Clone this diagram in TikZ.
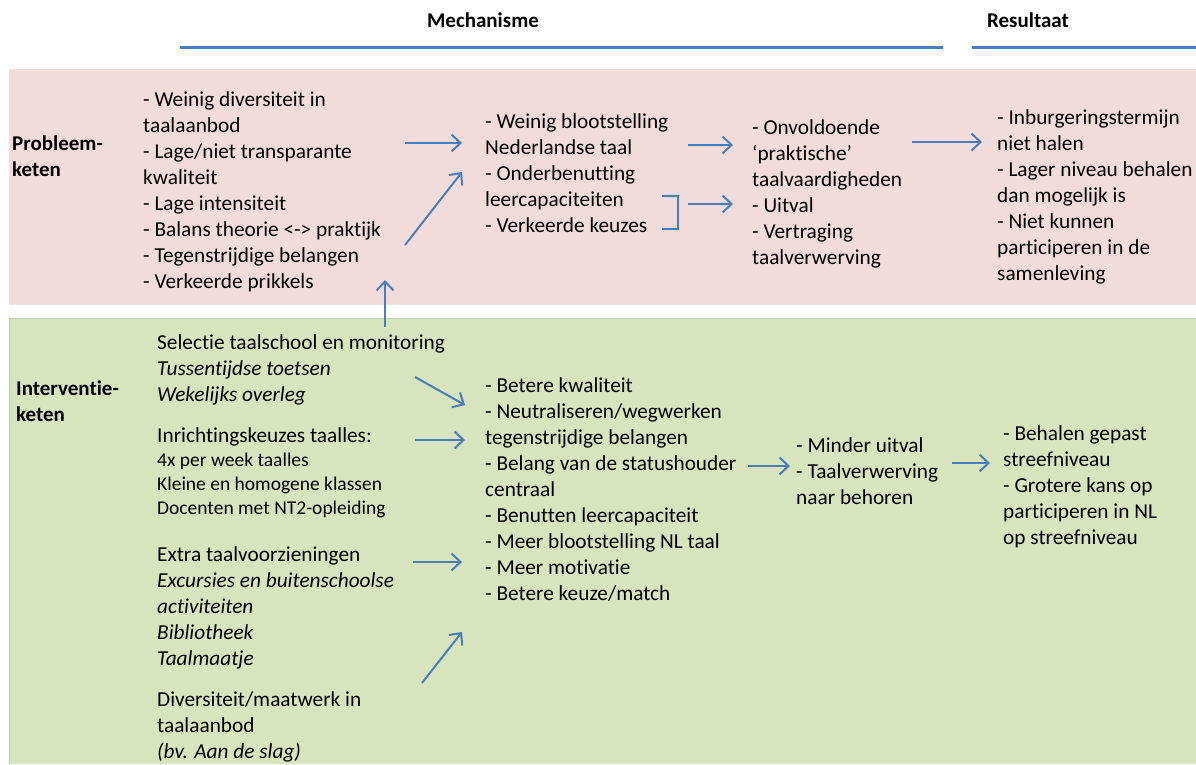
\documentclass[tikz,border=0pt]{standalone}
\usepackage{fontspec}
\setmainfont{Carlito}[Ligatures={NoCommon}]
\usepackage{tikz}
\usetikzlibrary{calc,positioning,arrows.meta}
\definecolor{blauw}{RGB}{74,126,187}
\definecolor{roze}{RGB}{242,220,219}
\definecolor{rozerand}{RGB}{236,228,228}
\definecolor{groen}{RGB}{215,228,189}
\definecolor{groenrand}{RGB}{196,206,182}
\tikzset{
  kopje/.style={font=\fontsize{21}{26}\selectfont\bfseries, inner sep=0pt},
  kopjelijn/.style={draw=blauw, line width=3pt},
  keten/.style={anchor=north west, align=left, inner sep=0pt,
    font=\fontsize{21}{26}\selectfont\bfseries,
    execute at begin node=\strut},
  lijst/.style={anchor=north west, align=left, inner sep=0pt,
    font=\fontsize{21.3}{26}\selectfont,
    execute at begin node=\strut},
  klein/.style={lijst, font=\fontsize{19.5}{24}\selectfont},
  pijl/.style={draw=blauw, line width=2pt,
    -{Straight Barb[length=9pt,width=17pt,line width=2pt]}},
  haak/.style={draw=blauw, line width=2pt},
}
\begin{document}
\begin{tikzpicture}[x=1pt,y=-1pt]
      \useasboundingbox (0,0) rectangle (1196,764);

      \fill[roze] (9,69) rectangle (1196,304);
      \draw[rozerand, line width=1pt] (9,69) rectangle (1196,304);
      \fill[groen] (9,318) rectangle (1196,764);
      \draw[groenrand, line width=1pt] (9,764) -- (9,318) -- (1196,318);

      \node[kopje] (mech) at (483,20) {Mechanisme};
      \node[kopje] (res) at (1028,20) {Resultaat};
      \coordinate (mechL) at (180,47); \coordinate (mechR) at (943,47);
      \coordinate (resL) at (972,47); \coordinate (resR) at (1196,47);
      \draw[kopjelijn] (mechL) -- (mechR);
      \draw[kopjelijn] (resL) -- (resR);

      \node[keten] (probl) at (12,136) {Probleem-\\keten};
      \node[lijst] (oorzaak) at (143,92) {- Weinig diversiteit in\\taalaanbod\\- Lage/niet transparante\\kwaliteit\\- Lage intensiteit\\- Balans theorie <-> praktijk\\- Tegenstrijdige belangen\\- Verkeerde prikkels};
      \node[lijst] (mechp) at (485,114) {- Weinig blootstelling\\Nederlandse taal\\- Onderbenutting\\leercapaciteiten\\- Verkeerde keuzes};
      \node[lijst] (gevolg) at (752,120) {- Onvoldoende\\‘praktische’\\taalvaardigheden\\- Uitval\\- Vertraging\\taalverwerving};
      \node[lijst] (resp) at (997,110) {- Inburgeringstermijn\\niet halen\\- Lager niveau behalen\\dan mogelijk is\\- Niet kunnen\\participeren in de\\samenleving};

      \draw[haak] (662,196) -- (678,196) -- (678,229) -- (662,229);

      \node[keten] (interv) at (16,381) {Interventie-\\keten};
      \node[lijst] (selectie) at (157,335) {Selectie taalschool en monitoring\\\textit{Tussentijdse toetsen}\\\textit{Wekelijks overleg}};
      \node[lijst] (inricht) at (157,424) {Inrichtingskeuzes taalles:};
      \node[klein] (inrichtsub) at (157,453) {4x per week taalles\\Kleine en homogene klassen\\Docenten met NT2-opleiding};
      \node[lijst] (extra) at (157,546) {Extra taalvoorzieningen\\\textit{Excursies en buitenschoolse}\\\textit{activiteiten}\\\textit{Bibliotheek}\\\textit{Taalmaatje}};
      \node[lijst] (divers) at (157,691) {Diversiteit/maatwerk in\\taalaanbod\\\textit{(bv. Aan de slag)}};
      \node[lijst] (mechi) at (485,377) {- Betere kwaliteit\\- Neutraliseren/wegwerken\\tegenstrijdige belangen\\- Belang van de statushouder\\centraal\\- Benutten leercapaciteit\\- Meer blootstelling NL taal\\- Meer motivatie\\- Betere keuze/match};
      \node[lijst] (uitkomst) at (796,437) {- Minder uitval\\- Taalverwerving\\naar behoren};
      \node[lijst] (resi) at (1003,425) {- Behalen gepast\\streefniveau\\- Grotere kans op\\participeren in NL\\op streefniveau};

      \coordinate (p1a) at (405,143); \coordinate (p1b) at (462,143);
      \coordinate (p2a) at (405,245); \coordinate (p2b) at (462,172);
      \coordinate (p3a) at (385,327); \coordinate (p3b) at (385,280);
      \coordinate (p4a) at (688,145); \coordinate (p4b) at (733,145);
      \coordinate (p5a) at (688,204); \coordinate (p5b) at (733,204);
      \coordinate (p6a) at (912,142); \coordinate (p6b) at (982,142);
      \coordinate (i1a) at (415,377); \coordinate (i1b) at (465,405);
      \coordinate (i2a) at (415,440); \coordinate (i2b) at (465,440);
      \coordinate (i3a) at (413,562); \coordinate (i3b) at (462,562);
      \coordinate (i4a) at (422,683); \coordinate (i4b) at (462,632);
      \coordinate (i5a) at (748,466); \coordinate (i5b) at (790,466);
      \coordinate (i6a) at (952,463); \coordinate (i6b) at (990,463);

      \draw[pijl] (p1a) -- (p1b); \draw[pijl] (p2a) -- (p2b); \draw[pijl] (p3a) -- (p3b);
      \draw[pijl] (p4a) -- (p4b); \draw[pijl] (p5a) -- (p5b); \draw[pijl] (p6a) -- (p6b);
      \draw[pijl] (i1a) -- (i1b); \draw[pijl] (i2a) -- (i2b); \draw[pijl] (i3a) -- (i3b);
      \draw[pijl] (i4a) -- (i4b); \draw[pijl] (i5a) -- (i5b); \draw[pijl] (i6a) -- (i6b);
    \end{tikzpicture}
\end{document}
